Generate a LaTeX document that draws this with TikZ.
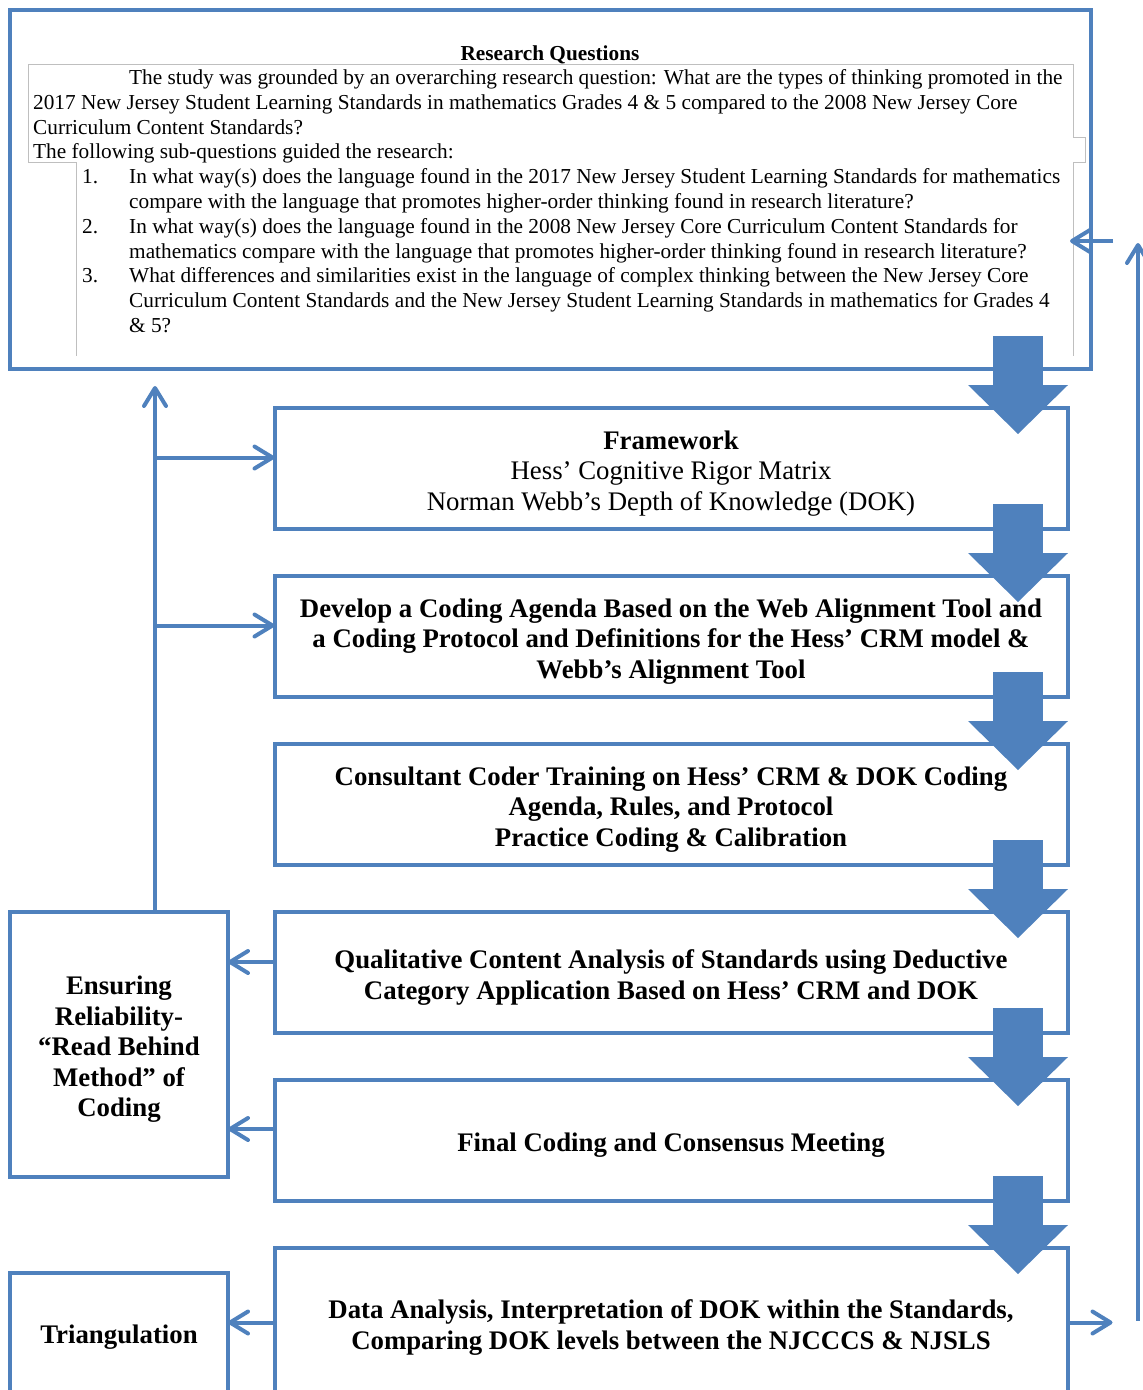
\documentclass[tikz,border=0pt]{standalone}
\usepackage{fontspec}
\setmainfont{Liberation Serif}
\usetikzlibrary{arrows.meta,calc}
\definecolor{boxblue}{RGB}{79,129,189}
\newcommand\boxstrut{\rule{0pt}{28.5pt}}

\begin{document}
\begin{tikzpicture}[x=1pt, y=-1pt,
    stepbox/.style={draw=boxblue, line width=4pt, outer sep=0pt, inner sep=0pt,
      minimum width=793pt, minimum height=121pt, align=center,
      font=\fontsize{26.8}{30.5}\selectfont\bfseries},
    sidebox/.style={stepbox, minimum width=218pt},
    boxtext/.style={inner sep=0pt, align=center, font=\fontsize{26.8}{30.5}\selectfont\bfseries},
    rqtext/.style={inner sep=0pt, font=\fontsize{21.3}{24.8}\selectfont},
    thinarrow/.style={draw=boxblue, line width=4pt, -{Straight Barb[length=18pt,width=22pt,round]}},
    bigarrow/.style={draw=boxblue, line width=50pt, -{Triangle[length=49pt,width=100pt,line width=0pt]}},
    tableline/.style={draw=black!25, line width=0.8pt}]

  \clip (0,0) rectangle (1143,1390);

  % research questions
  \node[draw=boxblue, line width=4pt, outer sep=0pt, minimum width=1081pt, minimum height=359pt] (rq) at (550.5,189.5) {};
  \draw[tableline] (28,162) -- (28,64) -- (1073,64) -- (1073,137) -- (1085,137) -- (1085,162) -- (1073,162) -- (1073,356);
  \draw[tableline] (28,162) -- (76,162) -- (76,356);
  \node[rqtext, font=\fontsize{21.3}{24.8}\selectfont\bfseries] (rqtitle) at (550,54.5) {Research Questions};
  \node[rqtext, anchor=north west] (rqbody) at (33,67) {%
    \begin{tabular}{@{}p{49pt}@{}p{47pt}@{}l@{}}
      & & The study was grounded by an overarching research question: What are the types of thinking promoted in the\\
      \multicolumn{3}{@{}l@{}}{2017 New Jersey Student Learning Standards in mathematics Grades 4 \& 5 compared to the 2008 New Jersey Core}\\
      \multicolumn{3}{@{}l@{}}{Curriculum Content Standards?}\\
      \multicolumn{3}{@{}l@{}}{The following sub-questions guided the research:}\\
      & 1. & In what way(s) does the language found in the 2017 New Jersey Student Learning Standards for mathematics\\
      & & compare with the language that promotes higher-order thinking found in research literature?\\
      & 2. & In what way(s) does the language found in the 2008 New Jersey Core Curriculum Content Standards for\\
      & & mathematics compare with the language that promotes higher-order thinking found in research literature?\\
      & 3. & What differences and similarities exist in the language of complex thinking between the New Jersey Core\\
      & & Curriculum Content Standards and the New Jersey Student Learning Standards in mathematics for Grades 4\\
      & & \& 5?
    \end{tabular}};

  % steps
  \node[stepbox] (fw) at (671,468.5) {\boxstrut Framework\\ \mdseries Hess’ Cognitive Rigor Matrix\\ \mdseries Norman Webb’s Depth of Knowledge (DOK)};
  \node[stepbox] (agenda) at (671,636.5) {\boxstrut Develop a Coding Agenda Based on the Web Alignment Tool and\\ a Coding Protocol and Definitions for the Hess’ CRM model \&\\ Webb’s Alignment Tool};
  \node[stepbox] (training) at (671,804.5) {\boxstrut Consultant Coder Training on Hess’ CRM \& DOK Coding\\ Agenda, Rules, and Protocol\\ Practice Coding \& Calibration};
  \node[stepbox] (qca) at (671,972.5) {\boxstrut Qualitative Content Analysis of Standards using Deductive\\ Category Application Based on Hess’ CRM and DOK};
  \node[stepbox] (final) at (671,1140.5) {\boxstrut Final Coding and Consensus Meeting};
  \node[stepbox, minimum height=149pt] (data) at (671,1322.5) {\boxstrut Data Analysis, Interpretation of DOK within the Standards,\\ Comparing DOK levels between the NJCCCS \& NJSLS};

  % side boxes
  \node[sidebox, minimum height=265pt] (rel) at (119,1044.5) {\boxstrut Ensuring\\ Reliability-\\ “Read Behind\\ Method” of\\ Coding};
  \node[sidebox, minimum height=124pt, anchor=north] (tri) at (119,1273) {};
  \node[boxtext] (tritext) at (119,1337) {Triangulation};

  \coordinate (col) at (1018,0);
  \coordinate (spine) at (155,0);
  \coordinate (back) at (1138,243);

  % block arrows
  \foreach \a/\b/\s in {rq/fw/33, fw/agenda/25, agenda/training/25, training/qca/25, qca/final/25, final/data/25}
    \draw[bigarrow] ($(\a.south -| col)+(0,-\s)$) -- ($(\b.north -| col)+(0,26)$);

  % reliability loop
  \draw[thinarrow] (rel.north -| spine) -- ($(rq.south -| spine)+(0,17)$);
  \draw[thinarrow] ([yshift=11pt]fw.west -| spine) -- ([yshift=11pt]fw.west);
  \draw[thinarrow] ([yshift=11pt]agenda.west -| spine) -- ([yshift=11pt]agenda.west);
  \draw[thinarrow] ([yshift=10.5pt]qca.west) -- ([yshift=10.5pt]qca.west -| rel.east);
  \draw[thinarrow] ([yshift=11.5pt]final.west) -- ([yshift=11.5pt]final.west -| rel.east);
  \draw[thinarrow] (data.west) -- (data.west -| tri.east);

  % back to the questions
  \draw[thinarrow] (data.east) -- ++(45,0);
  \draw[thinarrow] ($(data.east -| back)+(0,-2)$) -- (back);
  \draw[thinarrow] ($(back)+(-25,-2)$) -- ++(-43,0);
\end{tikzpicture}
\end{document}
